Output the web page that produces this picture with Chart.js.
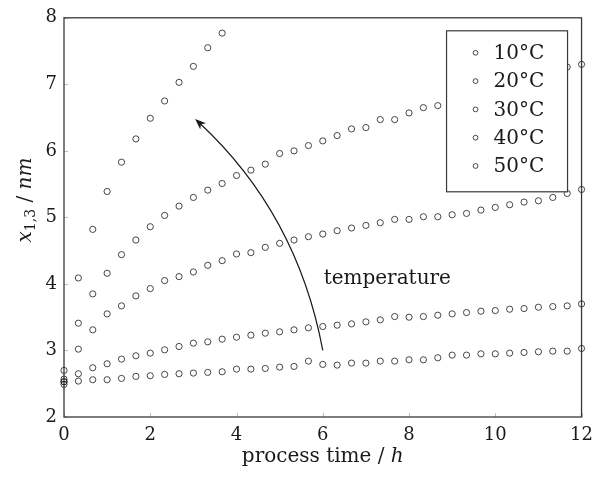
<!DOCTYPE html>
<html>
<head>
<meta charset="utf-8">
<script src="https://cdn.jsdelivr.net/npm/chart.js@4.4.1/dist/chart.umd.min.js"></script>
<style>
  html, body { margin: 0; padding: 0; background: #ffffff; }
  #wrap { width: 601px; height: 483px; }
</style>
</head>
<body>
<div id="wrap"><canvas id="chart" width="601" height="483"></canvas></div>
<script>
// Sampling times of the measurements (hours)
const processTime = [0, 0.333, 0.667, 1, 1.333, 1.667, 2, 2.333, 2.667, 3,
  3.333, 3.667, 4, 4.333, 4.667, 5, 5.333, 5.667, 6, 6.333,
  6.667, 7, 7.333, 7.667, 8, 8.333, 8.667, 9, 9.333, 9.667,
  10, 10.333, 10.667, 11, 11.333, 11.667, 12];

// Feature size x_{1,3} in nm at each process temperature
const size10C = [2.49, 2.54, 2.56, 2.56, 2.58, 2.61, 2.62, 2.64, 2.65, 2.66,
  2.67, 2.68, 2.72, 2.72, 2.73, 2.75, 2.76, 2.84, 2.79, 2.78,
  2.81, 2.81, 2.84, 2.84, 2.86, 2.86, 2.89, 2.93, 2.93, 2.95,
  2.95, 2.96, 2.97, 2.98, 2.99, 2.99, 3.03];
const size20C = [2.53, 2.65, 2.74, 2.80, 2.87, 2.92, 2.96, 3.01, 3.06, 3.11,
  3.13, 3.17, 3.20, 3.23, 3.26, 3.28, 3.31, 3.34, 3.36, 3.38,
  3.40, 3.43, 3.46, 3.51, 3.50, 3.51, 3.53, 3.55, 3.57, 3.59,
  3.60, 3.62, 3.63, 3.65, 3.66, 3.67, 3.70];
const size30C = [2.57, 3.02, 3.31, 3.55, 3.67, 3.82, 3.93, 4.05, 4.11, 4.18,
  4.28, 4.35, 4.45, 4.47, 4.55, 4.61, 4.66, 4.71, 4.75, 4.80,
  4.84, 4.88, 4.92, 4.97, 4.97, 5.01, 5.01, 5.04, 5.06, 5.11,
  5.15, 5.19, 5.23, 5.25, 5.30, 5.36, 5.42];
const size40C = [2.70, 3.41, 3.85, 4.16, 4.44, 4.66, 4.86, 5.03, 5.17, 5.30,
  5.41, 5.51, 5.63, 5.71, 5.80, 5.96, 6.00, 6.08, 6.15, 6.23,
  6.33, 6.35, 6.47, 6.47, 6.57, 6.65, 6.68, null, null, null,
  null, null, null, null, null, 7.26, 7.30];
const size50C = [2.53, 4.09, 4.82, 5.39, 5.83, 6.18, 6.49, 6.75, 7.03, 7.27,
  7.55, 7.77];

const seriesLabels = ['10°C', '20°C', '30°C', '40°C', '50°C'];
const seriesValues = [size10C, size20C, size30C, size40C, size50C];

const xTicks = [0, 2, 4, 6, 8, 10, 12];
const yTicks = [2, 3, 4, 5, 6, 7, 8];

// Curved "temperature" arrow, in data units (hours, nm)
const arrowStart = [6, 3.0];
const arrowControl = [5.41, 5.05];
const arrowEnd = [3.04, 6.48];
const noteText = 'temperature';
const noteAt = [6.02, 4.0];

const SERIF = '"DejaVu Serif", "Liberation Serif", serif';
const INK = '#1a1a1a';

function toPoints(values) {
  const pts = [];
  values.forEach((v, i) => { if (v !== null) pts.push({ x: processTime[i], y: v }); });
  return pts;
}

function drawRich(ctx, parts, x, y, align) {
  // parts: [text, font, dy]
  let total = 0;
  parts.forEach(p => { ctx.font = p[1]; total += ctx.measureText(p[0]).width; });
  let cx = align === 'center' ? x - total / 2 : x;
  parts.forEach(p => {
    ctx.font = p[1];
    ctx.fillText(p[0], cx, y + (p[2] || 0));
    cx += ctx.measureText(p[0]).width;
  });
}

const decorations = {
  id: 'decorations',
  beforeDatasetsDraw(chart) {
    const { ctx, chartArea: a, scales: { x, y } } = chart;
    ctx.save();
    // short inward tick marks
    ctx.strokeStyle = '#bdbdbd';
    ctx.lineWidth = 1;
    ctx.beginPath();
    xTicks.forEach(v => {
      const px = Math.round(x.getPixelForValue(v)) + 0.5;
      ctx.moveTo(px, a.bottom);
      ctx.lineTo(px, a.bottom - 4);
    });
    yTicks.forEach(v => {
      const py = Math.round(y.getPixelForValue(v)) + 0.5;
      ctx.moveTo(a.left, py);
      ctx.lineTo(a.left + 4, py);
    });
    ctx.stroke();
    // axis frame
    ctx.strokeStyle = '#383838';
    ctx.lineWidth = 1.3;
    ctx.strokeRect(a.left, a.top, a.right - a.left, a.bottom - a.top);
    ctx.restore();
  },
  afterDatasetsDraw(chart) {
    const { ctx, chartArea: a, scales: { x, y } } = chart;
    ctx.save();

    // curved arrow
    const p0 = [x.getPixelForValue(arrowStart[0]), y.getPixelForValue(arrowStart[1])];
    const pc = [x.getPixelForValue(arrowControl[0]), y.getPixelForValue(arrowControl[1])];
    const p1 = [x.getPixelForValue(arrowEnd[0]), y.getPixelForValue(arrowEnd[1])];
    let dx = p1[0] - pc[0], dy = p1[1] - pc[1];
    const len = Math.hypot(dx, dy);
    dx /= len; dy /= len;
    const headL = 11, headW = 4.2;
    ctx.strokeStyle = INK;
    ctx.fillStyle = INK;
    ctx.lineWidth = 1.2;
    ctx.beginPath();
    ctx.moveTo(p0[0], p0[1]);
    ctx.quadraticCurveTo(pc[0], pc[1], p1[0] - dx * 6, p1[1] - dy * 6);
    ctx.stroke();
    const bx = p1[0] - dx * headL, by = p1[1] - dy * headL;
    ctx.beginPath();
    ctx.moveTo(p1[0], p1[1]);
    ctx.lineTo(bx - dy * headW, by + dx * headW);
    ctx.lineTo(p1[0] - dx * headL * 0.72, p1[1] - dy * headL * 0.72);
    ctx.lineTo(bx + dy * headW, by - dx * headW);
    ctx.closePath();
    ctx.fill();

    // note next to the arrow
    ctx.fillStyle = INK;
    ctx.textBaseline = 'alphabetic';
    ctx.textAlign = 'left';
    ctx.font = '20px ' + SERIF;
    ctx.fillText(noteText, x.getPixelForValue(noteAt[0]), y.getPixelForValue(noteAt[1]));

    // legend box
    const boxW = 121, boxH = 161;
    const bxL = a.right - 14 - boxW, byT = a.top + 13;
    ctx.fillStyle = '#ffffff';
    ctx.fillRect(bxL, byT, boxW, boxH);
    ctx.strokeStyle = '#383838';
    ctx.lineWidth = 1.2;
    ctx.strokeRect(bxL, byT, boxW, boxH);
    ctx.font = '20px ' + SERIF;
    ctx.textBaseline = 'middle';
    chart.data.datasets.forEach((ds, i) => {
      const ry = byT + 22 + i * 28.3;
      ctx.beginPath();
      ctx.arc(bxL + 29, ry, 2.4, 0, Math.PI * 2);
      ctx.strokeStyle = INK;
      ctx.lineWidth = 0.8;
      ctx.stroke();
      ctx.fillStyle = INK;
      ctx.fillText(ds.label, bxL + 47, ry + 1);
    });

    // axis titles
    ctx.textBaseline = 'alphabetic';
    ctx.fillStyle = INK;
    drawRich(ctx, [
      ['process time / ', '20px ' + SERIF, 0],
      ['h', 'italic 20px ' + SERIF, 0]
    ], (a.left + a.right) / 2, 462, 'center');

    ctx.translate(31, 200);
    ctx.rotate(-Math.PI / 2);
    drawRich(ctx, [
      ['x', 'italic 20px ' + SERIF, 0],
      ['1,3', '14px ' + SERIF, 4],
      [' / ', '20px ' + SERIF, 0],
      ['nm', 'italic 20px ' + SERIF, 0]
    ], 0, 0, 'center');
    ctx.restore();
  }
};

const datasets = seriesValues.map((vals, i) => ({
  label: seriesLabels[i],
  data: toPoints(vals),
  showLine: false,
  pointStyle: 'circle',
  pointRadius: 3.1,
  pointBorderWidth: 0.8,
  borderColor: INK,
  backgroundColor: 'rgba(0,0,0,0)',
  clip: false
}));

new Chart(document.getElementById('chart'), {
  type: 'scatter',
  data: { datasets },
  options: {
    responsive: false,
    devicePixelRatio: 1,
    animation: false,
    events: [],
    layout: { padding: { top: 12, right: 14, left: 0, bottom: 0 } },
    plugins: {
      legend: { display: false },
      tooltip: { enabled: false }
    },
    scales: {
      x: {
        type: 'linear',
        min: 0, max: 12,
        afterBuildTicks: s => { s.ticks = xTicks.map(v => ({ value: v })); },
        afterFit: s => { s.height = 66; },
        grid: { display: false, drawTicks: false },
        border: { display: false },
        ticks: { padding: 8, color: INK, font: { family: SERIF, size: 18 }, maxRotation: 0 }
      },
      y: {
        type: 'linear',
        min: 2, max: 8,
        afterBuildTicks: s => { s.ticks = yTicks.map(v => ({ value: v })); },
        afterFit: s => { s.width = 64; },
        grid: { display: false, drawTicks: false },
        border: { display: false },
        ticks: { padding: 7, color: INK, font: { family: SERIF, size: 18 } }
      }
    }
  },
  plugins: [decorations]
});
</script>
</body>
</html>
